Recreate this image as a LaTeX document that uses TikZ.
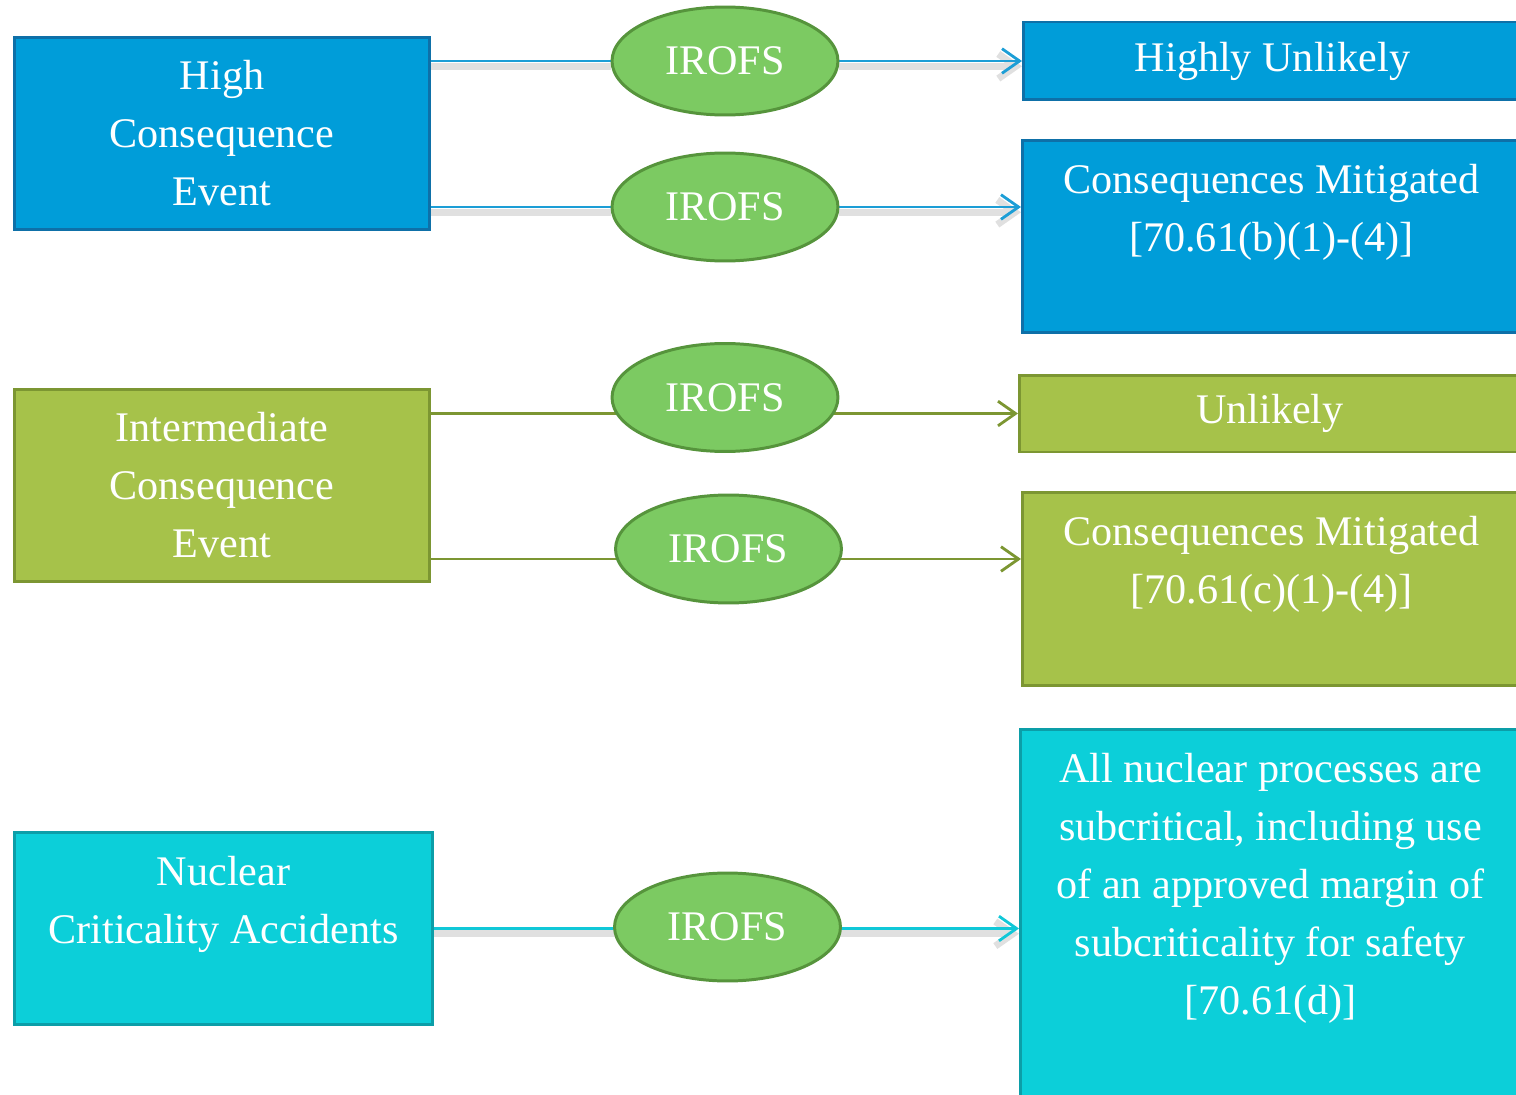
\documentclass[tikz,border=0pt]{standalone}
\usepackage{fontspec}
\setmainfont{Liberation Serif}
\usetikzlibrary{shapes.geometric,arrows.meta,backgrounds}

\definecolor{hiblue}{RGB}{0,157,217}
\definecolor{hiedge}{RGB}{14,112,168}
\definecolor{hiline}{RGB}{28,158,214}
\definecolor{midgreen}{RGB}{166,194,74}
\definecolor{midedge}{RGB}{124,150,50}
\definecolor{critcyan}{RGB}{12,207,217}
\definecolor{critedge}{RGB}{12,158,168}
\definecolor{critline}{RGB}{16,200,216}
\definecolor{irofsgreen}{RGB}{124,202,98}
\definecolor{irofsedge}{RGB}{86,148,60}

\begin{document}
\begin{tikzpicture}[
    x=0.02cm, y=-0.02cm,
    evbox/.style={rectangle, draw, line width=1.7pt, minimum height=3.86cm, text=white, align=center, font=\fontsize{24}{33}\selectfont},
    outbox/.style={evbox, anchor=west, minimum width=9.96cm},
    irofs/.style={ellipse, draw=irofsedge, fill=irofsgreen, line width=1.7pt, minimum width=4.52cm, minimum height=2.16cm, inner sep=0pt, text=white, font=\fontsize{24}{33}\selectfont},
    link/.style={line width=1.6pt},
    lineshadow/.style={preaction={draw=black!12, line width=4pt, transform canvas={yshift=-3pt}}},
    >={Straight Barb[length=10pt,width=14pt]}
]
    \useasboundingbox (0,0) rectangle (1516,1095);

    % High consequence
    \node[evbox, fill=hiblue, draw=hiedge, minimum width=8.32cm] (hce) at (222,133.5) {High\\Consequence\\Event};
    \node[irofs] (irofsA) at (725,61) {IROFS};
    \node[irofs] (irofsB) at (725,207) {IROFS};
    \node[outbox, fill=hiblue, draw=hiedge, minimum height=1.56cm] (hunl) at (1022,61) {Highly Unlikely};
    \node[outbox, fill=hiblue, draw=hiedge] (mitb) at (1021,236.5) {Consequences Mitigated\\{[}70.61(b)(1)-(4)]\\~};

    % Intermediate consequence
    \node[evbox, fill=midgreen, draw=midedge, minimum width=8.32cm] (ice) at (222,485.5) {Intermediate\\Consequence\\Event};
    \node[irofs] (irofsC) at (725,397.5) {IROFS};
    \node[irofs] (irofsD) at (728.5,549) {IROFS};
    \node[outbox, fill=midgreen, draw=midedge, minimum height=1.54cm, minimum width=10.02cm] (unl) at (1018,413.5) {Unlikely};
    \node[outbox, fill=midgreen, draw=midedge] (mitc) at (1021,589) {Consequences Mitigated\\{[}70.61(c)(1)-(4)]\\~};

    % Criticality
    \node[evbox, fill=critcyan, draw=critedge, minimum width=8.38cm] (nca) at (223.5,928.5) {Nuclear\\Criticality Accidents\\~};
    \node[irofs] (irofsE) at (727.5,927) {IROFS};
    \node[outbox, fill=critcyan, draw=critedge, minimum height=7.36cm, minimum width=10cm] (safe) at (1019,913) {All nuclear processes are\\subcritical, including use\\of an approved margin of\\subcriticality for safety\\{[}70.61(d)]\\~};

    % Connectors
    \begin{scope}[on background layer]
        \draw[link, hiline, lineshadow] (hce.east |- irofsA.west) -- (irofsA.west);
        \draw[link, hiline, lineshadow, ->] (irofsA.east) -- (hunl.west);
        \draw[link, hiline, lineshadow] (hce.east |- irofsB.west) -- (irofsB.west);
        \draw[link, hiline, lineshadow, ->] (irofsB.east) -- (mitb.west |- irofsB.east);

        \draw[link, midedge] (ice.east |- unl.west) -- (irofsC.center |- unl.west);
        \draw[link, midedge, ->] (irofsC.center |- unl.west) -- (unl.west);
        \coordinate (lowD) at ([yshift=-0.2cm]irofsD.center);
        \draw[link, midedge] (ice.east |- lowD) -- (lowD);
        \draw[link, midedge, ->] (lowD) -- (mitc.west |- lowD);

        \draw[link, critline, lineshadow] (nca.east) -- (irofsE.center |- nca.east);
        \draw[link, critline, lineshadow, ->] (irofsE.center |- nca.east) -- (safe.west |- nca.east);
    \end{scope}
\end{tikzpicture}
\end{document}
